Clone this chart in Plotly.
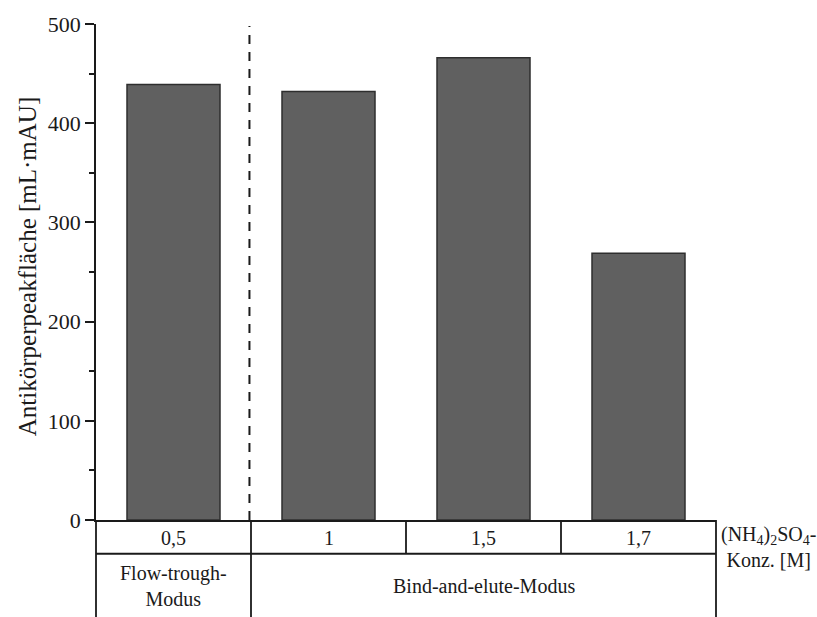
import plotly.graph_objects as go

# Ammonium sulfate concentrations (M) and antibody peak areas (mL·mAU)
concentrations = ["0,5", "1", "1,5", "1,7"]
peak_area = [439, 432, 466, 269]
modes = ["Flow-trough-<br>Modus", "Bind-and-elute-Modus"]
y_ticks = [0, 100, 200, 300, 400, 500]

FONT = "Liberation Serif"
INK = "#1a1a1a"

fig = go.Figure(
    go.Bar(
        x=list(range(len(concentrations))),
        y=peak_area,
        width=0.6,
        marker=dict(color="#606060", line=dict(color="#2e2e2e", width=1.5)),
    )
)

fig.update_layout(
    width=817,
    height=617,
    margin=dict(l=96, r=101, t=20, b=97),
    plot_bgcolor="white",
    paper_bgcolor="white",
    showlegend=False,
    font=dict(family=FONT, color=INK),
)

fig.update_xaxes(
    range=[-0.5, len(concentrations) - 0.5],
    showticklabels=False,
    ticks="",
    showgrid=False,
    zeroline=False,
    showline=True,
    linecolor=INK,
    linewidth=1.8,
)

fig.update_yaxes(
    range=[0, 500],
    tickvals=y_ticks,
    ticktext=[str(v) for v in y_ticks],
    ticks="outside",
    ticklen=9,
    tickwidth=1.8,
    tickcolor=INK,
    minor=dict(tickvals=[50, 150, 250, 350, 450], ticks="outside", ticklen=5,
               tickwidth=1.8, tickcolor=INK),
    tickfont=dict(family=FONT, size=22, color=INK),
    showgrid=False,
    zeroline=False,
    showline=True,
    linecolor=INK,
    linewidth=1.8,
)

# Divider between flow-through and bind-and-elute runs
fig.add_shape(type="line", xref="x", yref="paper", x0=0.49, x1=0.49, y0=0, y1=0.996,
              line=dict(color=INK, width=2, dash="9px,8px"))

# Table below the axis: concentration row and mode row
n = len(concentrations)
row1_bottom = -0.068
table_bottom = -0.2
line_style = dict(color=INK, width=1.8)
fig.add_shape(type="line", xref="paper", yref="paper", x0=0, x1=1,
              y0=row1_bottom, y1=row1_bottom, line=line_style)
for i in range(n + 1):
    xb = i / n
    full = i in (0, 1, n)
    fig.add_shape(type="line", xref="paper", yref="paper", x0=xb, x1=xb,
                  y0=table_bottom if full else row1_bottom, y1=0, line=line_style)

for i, label in enumerate(concentrations):
    fig.add_annotation(x=(i + 0.5) / n, y=-0.036, xref="paper", yref="paper",
                       text=label, showarrow=False, xanchor="center", yanchor="middle",
                       font=dict(family=FONT, size=20, color=INK))

fig.add_annotation(x=0.5 / n, y=-0.134, xref="paper", yref="paper", text=modes[0],
                   showarrow=False, xanchor="center", yanchor="middle", align="center",
                   font=dict(family=FONT, size=20, color=INK))
fig.add_annotation(x=(1 + n) / (2 * n), y=-0.134, xref="paper", yref="paper", text=modes[1],
                   showarrow=False, xanchor="center", yanchor="middle", align="center",
                   font=dict(family=FONT, size=20, color=INK))

fig.add_annotation(x=1.085, y=-0.054, xref="paper", yref="paper",
                   text="(NH<sub>4</sub>)<sub>2</sub>SO<sub>4</sub>-<br>Konz. [M]",
                   showarrow=False, xanchor="center", yanchor="middle", align="center",
                   font=dict(family=FONT, size=20, color=INK))

# Y-axis title
fig.add_annotation(x=-0.111, y=0.51, xref="paper", yref="paper",
                   text="Antikörperpeakfläche [mL·mAU]", textangle=-90,
                   showarrow=False, xanchor="center", yanchor="middle",
                   font=dict(family=FONT, size=25, color=INK))

fig.write_html("out.html")
